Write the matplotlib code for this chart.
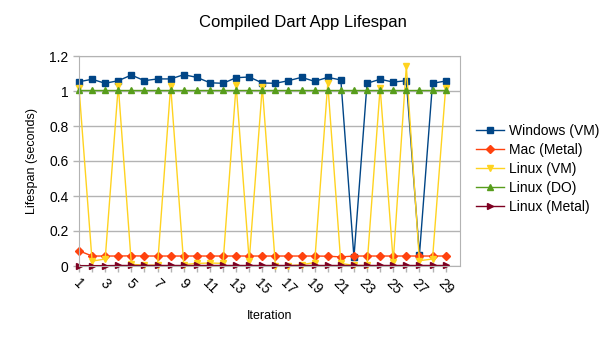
import numpy as np
import matplotlib
matplotlib.use('Agg')
import matplotlib.pyplot as plt

plt.rcParams['font.family'] = ['Liberation Sans', 'DejaVu Sans']

iterations = list(range(1, 30))

windows_vm = [1.053, 1.067, 1.044, 1.059, 1.091, 1.059, 1.069, 1.069, 1.093, 1.078,
              1.047, 1.044, 1.076, 1.080, 1.046, 1.044, 1.059, 1.078, 1.055, 1.078,
              1.063, 0.050, 1.044, 1.067, 1.051, 1.059, 0.063, 1.044, 1.057]
mac_metal = [0.087, 0.057, 0.057, 0.057, 0.058, 0.057, 0.057, 0.057, 0.057, 0.057,
             0.057, 0.057, 0.057, 0.057, 0.057, 0.057, 0.057, 0.057, 0.057, 0.056,
             0.052, 0.057, 0.057, 0.057, 0.057, 0.057, 0.057, 0.057, 0.057]
linux_vm = [1.02, 0.028, 0.04, 1.03, 0.01, 0.004, 0.005, 1.03, 0.008, 0.015,
            0.017, 0.015, 1.034, 0.03, 1.025, 0.002, 0.001, 0.007, 0.02, 1.044,
            0.015, 0.003, 0.003, 1.02, 0.025, 1.143, 0.03, 0.04, 1.015]
linux_do = [1.005] * 29
linux_metal = [0.002, 0.002, 0.002, 0.003, 0.003, 0.003, 0.003, 0.003, 0.003, 0.003,
               0.003, 0.003, 0.003, 0.003, 0.003, 0.003, 0.003, 0.003, 0.003, 0.003,
               0.003, 0.003, 0.003, 0.003, 0.003, 0.003, 0.003, 0.003, 0.003]

series = [
    ('Windows (VM)', windows_vm, '#004586', 's'),
    ('Mac (Metal)', mac_metal, '#ff420e', 'D'),
    ('Linux (VM)', linux_vm, '#ffd320', 'v'),
    ('Linux (DO)', linux_do, '#579d1c', '^'),
    ('Linux (Metal)', linux_metal, '#7e0021', '>'),
]

fig = plt.figure(figsize=(6.05, 3.4), dpi=100)
ax = fig.add_axes([79 / 605, 1 - 266 / 340, (460 - 79) / 605, (266 - 56) / 340])

for name, vals, col, mk in series:
    ms = 4 if mk == 'D' else 5
    ax.plot(iterations, vals, color=col, marker=mk, markersize=ms, linewidth=1.0,
            label=name, clip_on=False)

ax.set_xlim(1, 30.1)
ax.set_ylim(0, 1.2)
ax.set_yticks(np.arange(0, 1.21, 0.2))
ax.set_yticklabels(['0', '0.2', '0.4', '0.6', '0.8', '1', '1.2'], fontsize=10)
ax.set_xticks(iterations)
ax.set_xticklabels([str(i) if i % 2 == 1 else '' for i in iterations],
                   rotation=-45, fontsize=10, ha='center', va='top')
ax.tick_params(axis='both', color='#b3b3b3', length=4, width=1)
ax.grid(axis='y', color='#b3b3b3', linewidth=1)
ax.set_axisbelow(True)
for s in ax.spines.values():
    s.set_color('#b3b3b3')

ax.set_ylabel('Lifespan (seconds)', fontsize=9, labelpad=8)
ax.set_xlabel('Iteration', fontsize=9, labelpad=9)
fig.text(0.5, 1 - 22 / 340, 'Compiled Dart App Lifespan', fontsize=12, ha='center', va='center')

ax.legend(loc='center left', bbox_to_anchor=(1.042, 0.462), frameon=False, fontsize=10,
          handlelength=2.0, handletextpad=0.4, labelspacing=0.37,
          borderaxespad=0, borderpad=0)

fig.savefig('out.png', dpi=100)
